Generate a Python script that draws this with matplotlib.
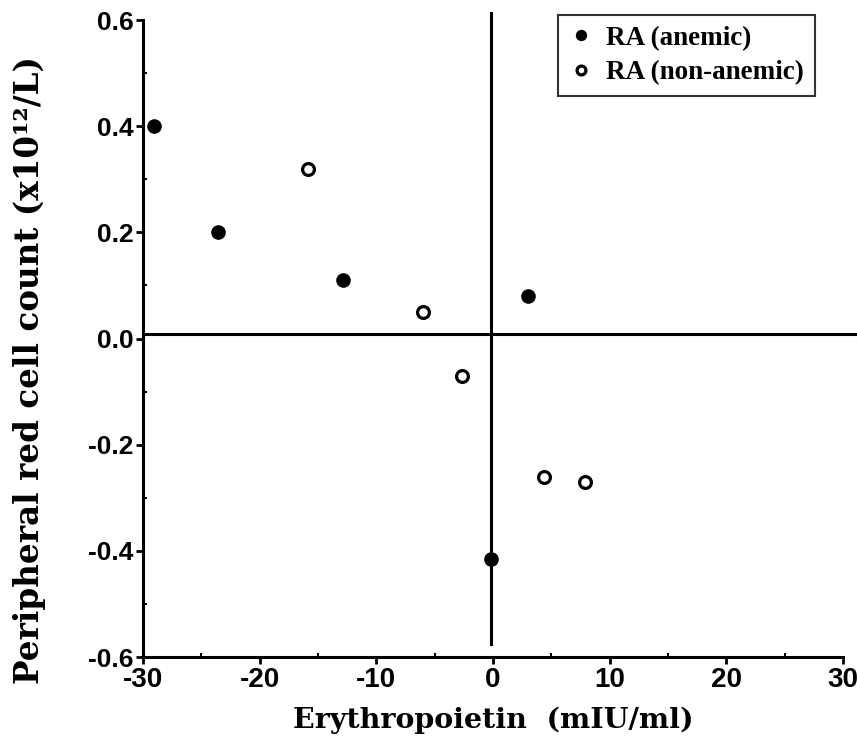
import numpy as np
import matplotlib.pyplot as plt
from matplotlib.ticker import MultipleLocator

# data
anemic_x = [-29.1, -23.6, -12.9, 3.0, -0.2]
anemic_y = [0.40, 0.20, 0.11, 0.08, -0.415]

nonanemic_x = [-15.9, -6.0, -2.7, 4.4, 7.9]
nonanemic_y = [0.32, 0.05, -0.07, -0.26, -0.27]

xticks = [-30, -20, -10, 0, 10, 20, 30]
yticks = [-0.6, -0.4, -0.2, 0.0, 0.2, 0.4, 0.6]

serif = ['DejaVu Serif']
times = ['Liberation Serif', 'DejaVu Serif']
sans = ['Liberation Sans Narrow', 'Liberation Sans', 'DejaVu Sans']

fig = plt.figure(figsize=(8.57, 7.37), dpi=100)
ax = fig.add_axes([0.1669, 0.1085, 0.8168, 0.8643])

# reference lines
ax.plot([-0.2, -0.2], [-0.575, 0.613], color='black', lw=2.2, clip_on=False, zorder=2)
ax.plot([-30, 31.3], [0.008, 0.008], color='black', lw=2.2, clip_on=False, zorder=2)

ax.plot(anemic_x, anemic_y, 'o', color='black', ms=9.5, zorder=3, label='RA (anemic)')
ax.plot(nonanemic_x, nonanemic_y, 'o', mfc='white', mec='black', mew=2.3, ms=8.5,
        zorder=3, label='RA (non-anemic)')

ax.set_xlim(-30, 30)
ax.set_ylim(-0.6, 0.6)
ax.set_xticks(xticks)
ax.set_yticks(yticks)
ax.set_xticklabels([str(t) for t in xticks])
ax.set_yticklabels(['%.1f' % t for t in yticks])
ax.xaxis.set_minor_locator(MultipleLocator(5))
ax.yaxis.set_minor_locator(MultipleLocator(0.1))

for s in ['top', 'right']:
    ax.spines[s].set_visible(False)
for s in ['left', 'bottom']:
    ax.spines[s].set_linewidth(2.2)

ax.tick_params(which='major', direction='out', length=5, width=2, pad=2)
ax.tick_params(which='minor', direction='in', length=3, width=1.5)
for lab in ax.get_xticklabels():
    lab.set_fontfamily(sans)
    lab.set_fontsize(20)
    lab.set_fontweight('bold')
for lab in ax.get_yticklabels():
    lab.set_fontfamily(sans)
    lab.set_fontsize(19)
    lab.set_fontweight('bold')

ax.set_xlabel('Erythropoietin  (mIU/ml)', fontfamily=serif, fontweight='bold',
              fontsize=20.5, labelpad=10)
ax.set_ylabel('Peripheral red cell count (x10\u00b9\u00b2/L)', fontfamily=serif,
              fontweight='bold', fontsize=23.5)
ax.yaxis.set_label_coords(-0.138, 0.45)

leg = ax.legend(loc='upper right', bbox_to_anchor=(815 / 857, 1 - 15 / 737),
                bbox_transform=fig.transFigure, frameon=True, fancybox=False,
                prop={'family': times, 'weight': 'bold', 'size': 19.5},
                handletextpad=0.5, borderpad=0.4, labelspacing=0.35,
                handlelength=0.9, markerscale=0.75, borderaxespad=0)
leg.get_frame().set_edgecolor('black')
leg.get_frame().set_linewidth(1.5)

fig.savefig('out.png', dpi=100)
